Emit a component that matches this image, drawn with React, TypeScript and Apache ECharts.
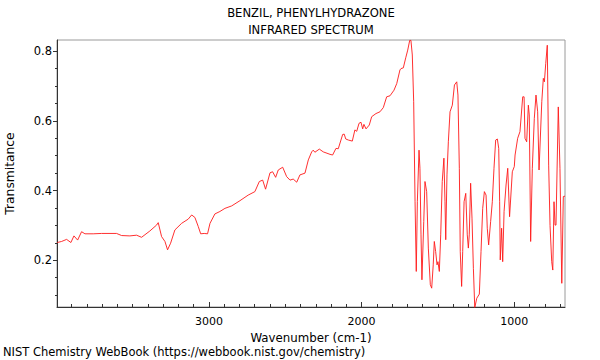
import React, { useEffect, useRef } from "react";
import * as echarts from "echarts";

const titleLines = ["BENZIL, PHENYLHYDRAZONE", "INFRARED SPECTRUM"];
const footer = "NIST Chemistry WebBook (https://webbook.nist.gov/chemistry)";
const xName = "Wavenumber (cm-1)";
const yName = "Transmitance";

const xMajor = [1000, 2000, 3000];
const xMinor = [700, 800, 900, 1100, 1200, 1300, 1400, 1500, 1600, 1700, 1800, 1900, 2100, 2200, 2300, 2400, 2500, 2600, 2700, 2800, 2900, 3100, 3200, 3300, 3400, 3500, 3600, 3700, 3800, 3900];
const yMajor = [0.2, 0.4, 0.6, 0.8];
const yMinor = [0.1, 0.15, 0.25, 0.3, 0.35, 0.45, 0.5, 0.55, 0.65, 0.7, 0.75];

const wavenumbers = [
  3994, 3965, 3932, 3904, 3884, 3860, 3834, 3812, 3758, 3703, 3605, 3572, 3518, 3474, 3441, 3387, 3343, 3332, 3310, 3288,
  3271, 3251, 3223, 3179, 3136, 3113, 3092, 3070, 3054, 3031, 3009, 2993, 2961, 2928, 2895, 2851, 2797, 2743, 2699, 2670,
  2648, 2629, 2600, 2583, 2563, 2546, 2517, 2491, 2469, 2448, 2425, 2404, 2371, 2349, 2327, 2317, 2306, 2277, 2251, 2207,
  2190, 2168, 2153, 2124, 2114, 2104, 2087, 2061, 2044, 2032, 2017, 2004, 1993, 1985, 1971, 1950, 1934, 1906, 1880, 1858,
  1836, 1814, 1788, 1770, 1749, 1742, 1727, 1711, 1698, 1685, 1677, 1668, 1659, 1650, 1642, 1635, 1624, 1618, 1611, 1605,
  1593, 1585, 1574, 1563, 1550, 1541, 1531, 1524, 1515, 1506, 1500, 1491, 1482, 1472, 1461, 1454, 1449, 1441, 1432, 1421,
  1406, 1392, 1377, 1369, 1360, 1354, 1345, 1338, 1329, 1318, 1308, 1301, 1295, 1286, 1277, 1268, 1259, 1246, 1229, 1218,
  1207, 1196, 1185, 1177, 1168, 1155, 1144, 1133, 1122, 1111, 1102, 1096, 1092, 1083, 1076, 1067, 1054, 1043, 1031, 1013,
  1000, 995, 978, 963, 945, 936, 930, 919, 908, 902, 893, 882, 869, 858, 847, 838, 820, 810, 803, 794,
  784, 775, 766, 755, 748, 740, 733, 727, 712, 701, 689, 679, 668,
];
const transmittance = [
  0.251, 0.254, 0.26, 0.251, 0.27, 0.258, 0.282, 0.276, 0.276, 0.277, 0.277, 0.271, 0.27, 0.272, 0.266, 0.284, 0.301, 0.308, 0.268, 0.254,
  0.23, 0.249, 0.287, 0.306, 0.318, 0.33, 0.323, 0.297, 0.276, 0.277, 0.276, 0.306, 0.333, 0.34, 0.349, 0.356, 0.371, 0.387, 0.397, 0.426,
  0.43, 0.404, 0.451, 0.454, 0.438, 0.459, 0.467, 0.44, 0.43, 0.433, 0.424, 0.445, 0.45, 0.488, 0.511, 0.516, 0.51, 0.519, 0.511, 0.504,
  0.502, 0.521, 0.52, 0.561, 0.562, 0.548, 0.545, 0.542, 0.574, 0.57, 0.593, 0.596, 0.577, 0.59, 0.577, 0.588, 0.612, 0.621, 0.626, 0.638,
  0.669, 0.672, 0.688, 0.707, 0.746, 0.75, 0.752, 0.781, 0.803, 0.831, 0.831, 0.789, 0.655, 0.368, 0.168, 0.368, 0.516, 0.464, 0.273, 0.144,
  0.311, 0.426, 0.397, 0.235, 0.13, 0.12, 0.187, 0.254, 0.225, 0.187, 0.196, 0.168, 0.273, 0.426, 0.493, 0.368, 0.259, 0.445, 0.54, 0.626,
  0.645, 0.703, 0.712, 0.674, 0.464, 0.225, 0.125, 0.225, 0.368, 0.392, 0.273, 0.235, 0.273, 0.421, 0.321, 0.177, 0.064, 0.091, 0.103, 0.225,
  0.349, 0.397, 0.387, 0.292, 0.244, 0.311, 0.368, 0.464, 0.545, 0.548, 0.521, 0.368, 0.201, 0.292, 0.196, 0.34, 0.416, 0.464, 0.325, 0.454,
  0.469, 0.502, 0.55, 0.569, 0.669, 0.669, 0.55, 0.54, 0.645, 0.617, 0.254, 0.464, 0.607, 0.674, 0.626, 0.459, 0.655, 0.722, 0.712, 0.765,
  0.817, 0.473, 0.3, 0.196, 0.172, 0.368, 0.301, 0.301, 0.64, 0.464, 0.134, 0.383, 0.384,
];

const X_MIN = 668;
const X_MAX = 3995;
const Y_MIN = 0.066;
const Y_MAX = 0.832;

export default function App() {
  const ref = useRef<HTMLDivElement>(null);
  useEffect(() => {
    if (!ref.current) return;
    const chart = echarts.init(ref.current, null, { renderer: "svg" });
    const font = "DejaVu Sans";
    const data = wavenumbers.map((w, i) => [w, transmittance[i]]);
    chart.setOption({
      animation: false,
      backgroundColor: "#ffffff",
      textStyle: { fontFamily: font },
      grid: {
        left: 57,
        right: 35,
        top: 40,
        bottom: 53,
        containLabel: false,
        outerBoundsMode: "none",
        show: true,
        borderColor: "#9a9a9a",
        borderWidth: 1,
        backgroundColor: "transparent",
      },
      xAxis: [
        {
          type: "value",
          inverse: true,
          min: X_MIN,
          max: X_MAX,
          name: xName,
          nameLocation: "middle",
          nameGap: 21,
          nameTextStyle: { fontFamily: font, fontSize: 11.8, color: "#000" },
          axisLine: { show: true, lineStyle: { color: "#333", width: 1 } },
          axisTick: { show: true, inside: true, length: 5, customValues: xMajor, lineStyle: { color: "#333" } },
          axisLabel: { show: true, customValues: xMajor, margin: 9, fontFamily: font, fontSize: 11, color: "#000", formatter: (v: number) => String(v) },
          splitLine: { show: false },
        },
        {
          type: "value",
          inverse: true,
          min: X_MIN,
          max: X_MAX,
          position: "bottom",
          axisLine: { show: false },
          axisTick: { show: true, inside: true, length: 3, customValues: xMinor, lineStyle: { color: "#333" } },
          axisLabel: { show: false },
          splitLine: { show: false },
        },
      ],
      yAxis: [
        {
          type: "value",
          min: Y_MIN,
          max: Y_MAX,
          name: yName,
          nameLocation: "middle",
          nameGap: 41,
          nameRotate: 90,
          nameTextStyle: { fontFamily: font, fontSize: 12.3, color: "#000" },
          axisLine: { show: true, lineStyle: { color: "#333", width: 1 } },
          axisTick: { show: true, inside: false, length: 4, customValues: yMajor, lineStyle: { color: "#333" } },
          axisLabel: { show: true, customValues: yMajor, margin: 5, fontFamily: font, fontSize: 11.5, color: "#000", formatter: (v: number) => v.toFixed(1) },
          splitLine: { show: false },
        },
        {
          type: "value",
          min: Y_MIN,
          max: Y_MAX,
          position: "left",
          axisLine: { show: false },
          axisTick: { show: true, inside: false, length: 2, customValues: yMinor, lineStyle: { color: "#333" } },
          axisLabel: { show: false },
          splitLine: { show: false },
        },
      ],
      graphic: [
        { type: "text", x: 311, y: 13, style: { text: titleLines[0], font: `11.6px "${font}"`, fill: "#000", textAlign: "center", textVerticalAlign: "middle" } },
        { type: "text", x: 311, y: 30, style: { text: titleLines[1], font: `11.6px "${font}"`, fill: "#000", textAlign: "center", textVerticalAlign: "middle" } },
        { type: "text", x: 3, y: 352, style: { text: footer, font: `11.5px "${font}"`, fill: "#000", textAlign: "left", textVerticalAlign: "middle" } },
      ],
      series: [
        {
          type: "line",
          xAxisIndex: 0,
          yAxisIndex: 0,
          data,
          showSymbol: false,
          symbol: "none",
          smooth: false,
          lineStyle: { color: "#ff1a1a", width: 1, opacity: 0.9 },
          clip: true,
        },
      ],
    });
    return () => chart.dispose();
  }, []);
  return <div ref={ref} style={{ position: "fixed", left: 0, top: 0, width: 600, height: 360 }} />;
}
